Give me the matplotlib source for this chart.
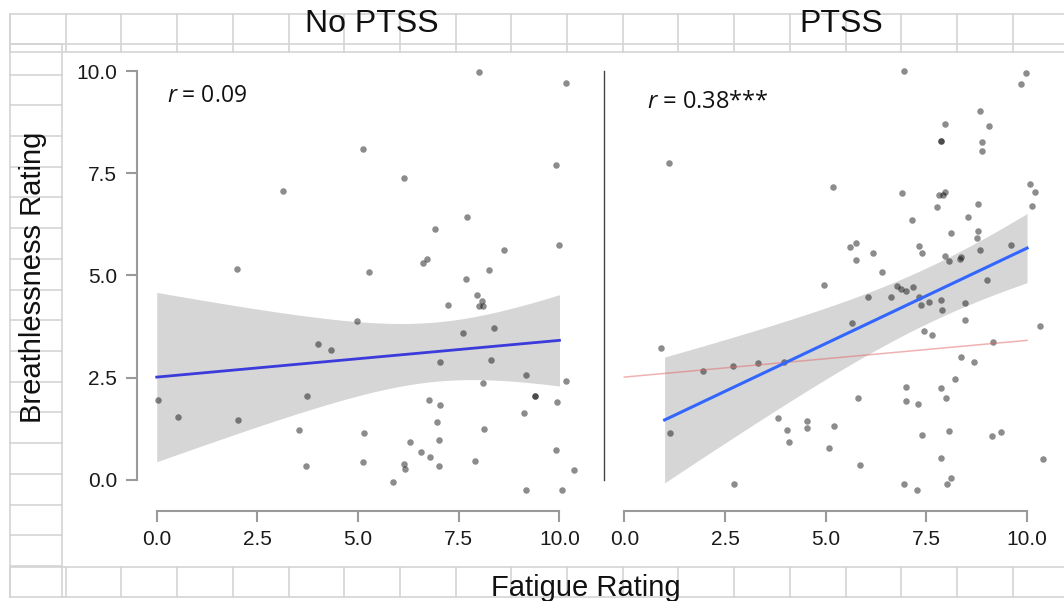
"""
Fatigue vs breathlessness ratings, split by PTSS group.
Two panels with jittered points, linear fit + 95% band (read off the figure).
"""
import numpy as np
import matplotlib
matplotlib.use("Agg")
import matplotlib.pyplot as plt
from matplotlib.lines import Line2D

W, H = 1064, 601

# ── data (jittered positions as shown) ──────────────────────────────────────
no_ptss_x = [3.13, 1.99, 8.01, 10.16, 5.13, 6.13, 9.92, 7.70, 6.92, 8.62,
             9.98, 6.71, 6.61, 5.27, 8.24, 7.68, 7.95, 7.22, 8.07, 8.00,
             8.11, 7.61, 8.37, 4.97, 4.01, 4.33, 7.03, 8.29, 9.18, 8.11,
             10.15, 0.04, 3.74, 9.40, 9.40, 0.52, 2.01, 6.76, 7.04, 9.94,
             9.11, 6.95, 5.15, 3.53, 8.12, 6.29, 7.00, 6.56, 9.91, 6.79,
             5.13, 6.15, 6.17, 7.00, 3.71, 7.91, 10.36, 5.86, 9.16, 10.06]
no_ptss_y = [7.08, 5.15, 9.98, 9.71, 8.09, 7.39, 7.70, 6.43, 6.14, 5.63,
             5.74, 5.40, 5.30, 5.09, 5.14, 4.91, 4.53, 4.28, 4.38, 4.26,
             4.26, 3.58, 3.71, 3.88, 3.31, 3.17, 2.89, 2.92, 2.56, 2.37,
             2.42, 1.96, 2.04, 2.04, 2.04, 1.54, 1.47, 1.94, 1.82, 1.89,
             1.64, 1.41, 1.13, 1.22, 1.23, 0.92, 0.96, 0.67, 0.73, 0.55,
             0.42, 0.37, 0.26, 0.33, 0.34, 0.46, 0.24, -0.07, -0.26, -0.26]

ptss_x = [1.12, 5.19, 6.95, 9.97, 9.85, 8.84, 7.97, 9.06, 7.87, 7.87,
          8.88, 8.87, 10.08, 10.19, 10.13, 6.89, 7.82, 7.95, 7.92, 7.76,
          8.77, 7.15, 8.54, 8.12, 8.79, 8.76, 9.60, 8.84, 5.60, 5.76,
          5.76, 6.18, 7.32, 7.39, 6.40, 7.96, 8.06, 8.35, 8.34, 9.00,
          4.97, 0.92, 1.95, 2.71, 3.31, 3.96, 1.14, 3.82, 4.03, 4.54,
          4.54, 5.20, 4.09, 5.09, 2.73, 6.77, 6.86, 6.99, 7.16, 6.05,
          6.62, 7.31, 7.37, 7.56, 7.87, 7.90, 8.47, 8.45, 5.66, 7.44,
          7.64, 10.33, 9.15, 8.36, 8.69, 8.21, 7.00, 7.86, 5.80, 7.00,
          7.30, 7.98, 7.38, 8.06, 9.13, 9.36, 7.87, 10.40, 5.84, 8.11,
          6.95, 8.02, 7.26]
ptss_y = [7.76, 7.16, 10.01, 9.97, 9.69, 9.04, 8.70, 8.66, 8.30, 8.30,
          8.28, 8.04, 7.23, 7.04, 6.69, 7.03, 6.97, 7.04, 6.97, 6.68,
          6.76, 6.36, 6.43, 6.03, 6.08, 5.91, 5.75, 5.62, 5.70, 5.79,
          5.38, 5.54, 5.73, 5.56, 5.08, 5.48, 5.36, 5.46, 5.41, 4.89,
          4.77, 3.23, 2.65, 2.79, 2.85, 2.88, 1.15, 1.52, 1.21, 1.43,
          1.26, 1.31, 0.91, 0.77, -0.10, 4.74, 4.66, 4.62, 4.71, 4.48,
          4.46, 4.47, 4.28, 4.35, 4.40, 4.16, 4.33, 3.90, 3.84, 3.65,
          3.54, 3.75, 3.37, 3.00, 2.88, 2.47, 2.27, 2.25, 2.00, 1.93,
          1.85, 1.99, 1.09, 1.19, 1.06, 1.17, 0.52, 0.50, 0.35, 0.05,
          -0.11, -0.11, -0.26]

# fitted lines (end points) and 95% band half-widths
no_ptss_fit_x = [0.0, 10.0]
no_ptss_fit_y = [2.51, 3.41]
no_ptss_band_x = [0.0, 2.5, 5.0, 7.5, 10.0]
no_ptss_band_hw = [2.07, 1.46, 0.88, 0.75, 1.12]

ptss_fit_x = [1.0, 10.0]
ptss_fit_y = [1.46, 5.67]
ptss_band_x = [1.0, 2.5, 5.0, 7.5, 10.0]
ptss_band_hw = [1.55, 1.25, 0.88, 0.70, 0.84]

panel_titles = ["No PTSS", "PTSS"]
r_labels = ["0.09", "0.38***"]
ticks = [0.0, 2.5, 5.0, 7.5, 10.0]
tick_labels = ["0.0", "2.5", "5.0", "7.5", "10.0"]

SANS = "Liberation Sans"
plt.rcParams["font.family"] = [SANS, "DejaVu Sans"]
plt.rcParams["mathtext.fontset"] = "custom"
plt.rcParams["mathtext.rm"] = "Open Sans"
plt.rcParams["mathtext.it"] = "Open Sans:italic"


def fit_and_band(fx, fy, bx, bhw, n=100):
    """Straight fit line plus a band whose squared half-width is quadratic in x
    (the shape of an OLS confidence band), through the read half-widths."""
    grid = np.linspace(fx[0], fx[1], n)
    slope = (fy[1] - fy[0]) / (fx[1] - fx[0])
    fit = fy[0] + slope * (grid - fx[0])
    coef = np.polyfit(bx, np.square(bhw), 2)
    hw = np.sqrt(np.clip(np.polyval(coef, grid), 0, None))
    return grid, fit, fit - hw, fit + hw


def px(x, y):
    return x / W, 1 - y / H


def hline(y, x0, x1):
    (a, b), (c, _) = px(x0, y), px(x1, y)
    fig.add_artist(Line2D([a, c], [b, b], color="#d4d4d4", lw=1.2,
                          transform=fig.transFigure, zorder=0))


def vline(x, y0, y1):
    (a, b), (_, d) = px(x, y0), px(x, y1)
    fig.add_artist(Line2D([a, a], [b, d], color="#d4d4d4", lw=1.2,
                          transform=fig.transFigure, zorder=0))


fig = plt.figure(figsize=(W / 100, H / 100), dpi=100)
fig.patch.set_facecolor("white")

# ── spreadsheet-like cell grid around the plot area ─────────────────────────
cols = [10 + 55.7 * k for k in range(20) if 10 + 55.7 * k < W]
for y in (14, 44, 51.7):
    hline(y, 10, W)
for y in (566.7, 596.7):
    hline(y, 10, W)
for x in cols:
    vline(x, 14, 51.7)
    vline(x, 566.7, 596.7)
for k in range(18):
    hline(44 + 30.7 * k, 10, 62)
vline(10, 14, 597)
vline(62, 44, 597)

# ── panels ─────────────────────────────────────────────────────────────────
XLIM = (-0.5, 10.5)
YLIM = (-0.77, 10.4)
ax_left = fig.add_axes([136.6 / W, 1 - 511 / H, 443 / W, (511 - 55) / H])
ax_right = fig.add_axes([604.2 / W, 1 - 511 / H, 443 / W, (511 - 55) / H])

grid_l, fit_l, lo_l, hi_l = fit_and_band(no_ptss_fit_x, no_ptss_fit_y,
                                         no_ptss_band_x, no_ptss_band_hw)
grid_r, fit_r, lo_r, hi_r = fit_and_band(ptss_fit_x, ptss_fit_y,
                                         ptss_band_x, ptss_band_hw)

for ax, xs, ys in ((ax_left, no_ptss_x, no_ptss_y), (ax_right, ptss_x, ptss_y)):
    ax.scatter(xs, ys, s=22, color="black", alpha=0.45, lw=0, zorder=2)
    ax.set_xlim(*XLIM)
    ax.set_ylim(*YLIM)
    ax.set_xticks(ticks)
    ax.set_xticklabels(tick_labels)
    for s in ("top", "right"):
        ax.spines[s].set_visible(False)
    ax.spines["bottom"].set_bounds(0, 10)
    ax.spines["left"].set_bounds(0, 10)
    ax.spines["bottom"].set_color("#9a9a9a")
    ax.spines["bottom"].set_linewidth(1.5)
    ax.tick_params(axis="x", length=8, width=1.5, color="#9a9a9a", pad=6,
                   labelsize=15, labelcolor="#1a1a1a")
    ax.patch.set_alpha(0)

ax_left.fill_between(grid_l, lo_l, hi_l, color="#999999", alpha=0.4, lw=0, zorder=1)
ax_left.plot(grid_l, fit_l, color="#3b3bdb", lw=2, zorder=3)
ax_left.set_yticks(ticks)
ax_left.set_yticklabels(tick_labels)
ax_left.spines["left"].set_color("#9a9a9a")
ax_left.spines["left"].set_linewidth(1.5)
ax_left.tick_params(axis="y", length=8, width=1.5, color="#9a9a9a", pad=6,
                    labelsize=15, labelcolor="#1a1a1a")

ax_right.fill_between(grid_r, lo_r, hi_r, color="#999999", alpha=0.4, lw=0, zorder=1)
ax_right.plot(grid_l, fit_l, color="#e06666", alpha=0.5, lw=1.1, zorder=3)
ax_right.plot(grid_r, fit_r, color="#3366ff", lw=2.2, zorder=4)
ax_right.set_yticks([])
ax_right.spines["left"].set_color("#444444")
ax_right.spines["left"].set_linewidth(1.0)

# r annotations
ax_left.text(0.25, 9.4, r"$\it{r}$ = " + r_labels[0], fontsize=16.5,
             family="Open Sans", va="center", ha="left", color="#111111")
ax_right.text(0.56, 9.25, r"$\it{r}$ = " + r_labels[1], fontsize=17,
              family="Open Sans", va="center", ha="left", color="#111111")

# ── titles / axis labels ───────────────────────────────────────────────────
fig.text(*px(372, 24), panel_titles[0], fontsize=23, ha="center", va="center",
         color="#111111")
fig.text(*px(841, 24), panel_titles[1], fontsize=23, ha="center", va="center",
         color="#111111")
fig.text(*px(586, 596), "Fatigue Rating", fontsize=21, ha="center",
         va="baseline", color="#111111")
fig.text(*px(33, 277), "Breathlessness Rating", fontsize=21, ha="center",
         va="center", rotation=90, color="#111111")

fig.savefig("out.png", dpi=100, facecolor="white")
